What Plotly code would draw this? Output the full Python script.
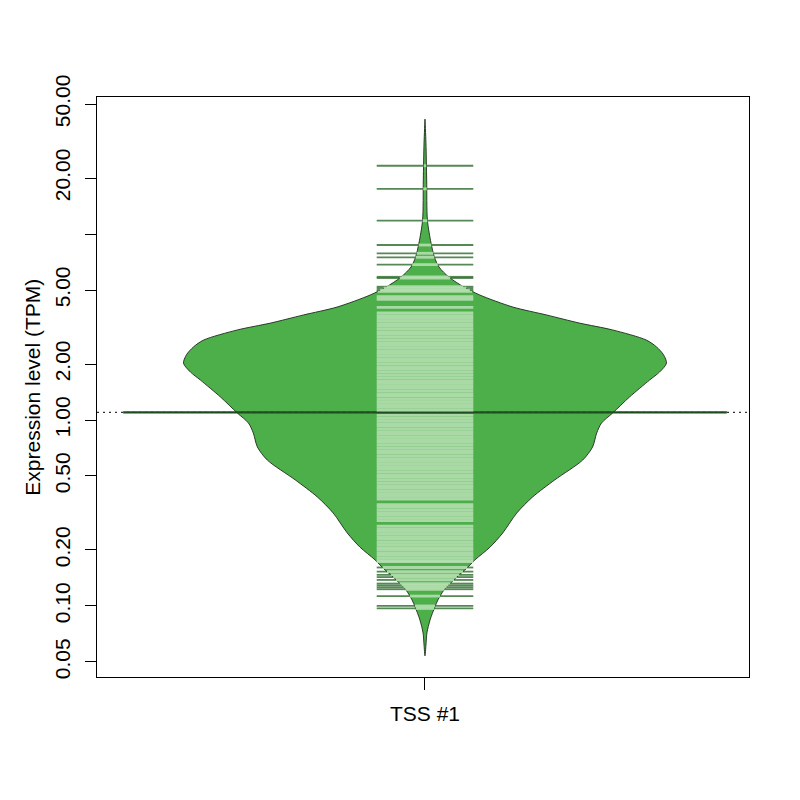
import numpy as np
import plotly.graph_objects as go

# bean outline: expression level (TPM) and relative density (max = 1)
bean_tpm = [0.0539, 0.0617, 0.0716, 0.0841, 0.0989, 0.108, 0.122, 0.143, 0.160, 0.177,
            0.207, 0.247, 0.316, 0.386, 0.476, 0.609, 0.716, 0.851, 0.963, 1.09,
            1.33, 1.64, 1.81, 2.02, 2.24, 2.47, 2.69, 3.05, 3.32, 3.67,
            4.05, 4.70, 5.19, 5.87, 6.65, 7.52, 8.95, 11.9, 19.5, 30.9, 41.5]
bean_density = [0, 0.004, 0.008, 0.021, 0.041, 0.054, 0.079, 0.132, 0.174, 0.207,
                0.269, 0.322, 0.380, 0.446, 0.537, 0.653, 0.694, 0.711, 0.731, 0.777,
                0.847, 0.930, 0.971, 1.0, 0.988, 0.959, 0.917, 0.777, 0.640, 0.504,
                0.364, 0.227, 0.161, 0.099, 0.058, 0.039, 0.025, 0.010, 0.007, 0.004, 0]

# individual observations (bean lines), TPM
obs_high = [23.3, 17.5, 11.8, 8.73, 7.88, 7.50, 6.85, 5.89, 5.80, 5.21, 5.11]
obs_mid = [0.175, 0.181, 0.187, 0.193, 0.200, 0.206, 0.213, 0.220, 0.228, 0.236,
           0.244, 0.252, 0.260, 0.269, 0.288, 0.297, 0.307, 0.318, 0.329, 0.340,
           0.351, 0.376, 0.388, 0.402, 0.415, 0.429, 0.444, 0.459, 0.475, 0.491,
           0.507, 0.525, 0.542, 0.561, 0.580, 0.600, 0.620, 0.641, 0.663, 0.685,
           0.709, 0.733, 0.758, 0.783, 0.810, 0.838, 0.866, 0.895, 0.926, 0.957,
           0.990, 1.02, 1.06, 1.13, 1.17, 1.21, 1.25, 1.29, 1.34, 1.38,
           1.43, 1.48, 1.53, 1.58, 1.63, 1.69, 1.75, 1.81, 1.87, 1.93, 2.00,
           2.07, 2.14, 2.21, 2.28, 2.36, 2.44, 2.52, 2.61, 2.70, 2.79,
           2.89, 2.98, 3.08, 3.19, 3.30, 3.41, 3.52, 3.64, 3.77, 4.03, 4.45,
           4.60, 4.92, 5.00]
obs_low = [0.173, 0.161, 0.153, 0.147, 0.143, 0.138, 0.132, 0.129, 0.126, 0.123,
           0.113, 0.100, 0.097]

bean_mean = 1.10
tick_vals = [0.05, 0.1, 0.2, 0.5, 1, 2, 5, 10, 20, 50]
tick_text = ["0.05", "0.10", "0.20", "0.50", "1.00", "2.00", "5.00", "", "20.00", "50.00"]
group_label = "TSS #1"

FILL = '#4DAF4A'
LINE_IN = 'rgba(180,222,175,0.9)'
LINE_OUT = 'rgba(20,90,20,0.72)'
AVG = '#1f4d1f'
FONT = 'Liberation Sans, Arial, sans-serif'
FS = 21

center = 1.0
maxwidth = 0.4
ll = 0.08
xr = [0.4567, 1.5367]

dens = np.array(bean_density) * maxwidth
xs = list(center + dens) + list(center - dens[::-1])
ys = list(bean_tpm) + list(bean_tpm[::-1])

fig = go.Figure()
fig.add_trace(go.Scatter(x=xs, y=ys, mode='lines', fill='toself', fillcolor=FILL,
                         line=dict(color='#1e2a1e', width=0.9, shape='spline', smoothing=0.8),
                         hoverinfo='skip', showlegend=False))

shapes = []
# overall average (dotted) and bean average
shapes.append(dict(type='line', xref='x', yref='y', x0=xr[0], x1=xr[1], y0=bean_mean, y1=bean_mean,
                   line=dict(color='black', width=1, dash='2px,4px'), layer='above'))
shapes.append(dict(type='line', xref='x', yref='y', x0=center - 0.5, x1=center + 0.5,
                   y0=bean_mean, y1=bean_mean, line=dict(color=AVG, width=2.2), layer='above'))

logt = np.log10(bean_tpm)
for v in obs_high + obs_mid + obs_low:
    w = float(np.interp(np.log10(v), logt, dens))
    wi = min(w, ll)
    shapes.append(dict(type='line', xref='x', yref='y', x0=center - wi, x1=center + wi, y0=v, y1=v,
                       line=dict(color=LINE_IN, width=2.8), layer='above'))
    if w < ll:
        for a, b in [(center - ll, center - w), (center + w, center + ll)]:
            shapes.append(dict(type='line', xref='x', yref='y', x0=a, x1=b, y0=v, y1=v,
                               line=dict(color=LINE_OUT, width=1.8), layer='above'))

# page body adds 8px offset, so margins are shifted to compensate
fig.update_layout(
    width=800, height=800,
    margin=dict(l=89, r=59, t=89, b=131),
    paper_bgcolor='white', plot_bgcolor='white',
    font=dict(family=FONT, size=FS, color='black'),
    shapes=shapes,
    showlegend=False,
    xaxis=dict(range=xr, tickvals=[center], ticktext=[group_label], showgrid=False, zeroline=False,
               showline=True, mirror=True, linecolor='black', linewidth=1,
               ticks='outside', ticklen=12, tickcolor='black', tickwidth=1,
               ticklabelstandoff=6, tickfont=dict(size=FS)),
    yaxis=dict(type='log', range=[-1.382, 1.737], tickvals=tick_vals, ticktext=tick_text,
               tickangle=-90, showgrid=False, zeroline=False,
               showline=True, mirror=True, linecolor='black', linewidth=1,
               ticks='outside', ticklen=11, tickcolor='black', tickwidth=1,
               ticklabelstandoff=7, tickfont=dict(size=FS)),
    annotations=[dict(text='Expression level (TPM)', xref='paper', yref='paper',
                      x=(31.7 - 97) / 652, y=0.5, xanchor='center', yanchor='middle',
                      textangle=-90, showarrow=False, font=dict(size=FS))],
)

fig.write_html("out.html")
